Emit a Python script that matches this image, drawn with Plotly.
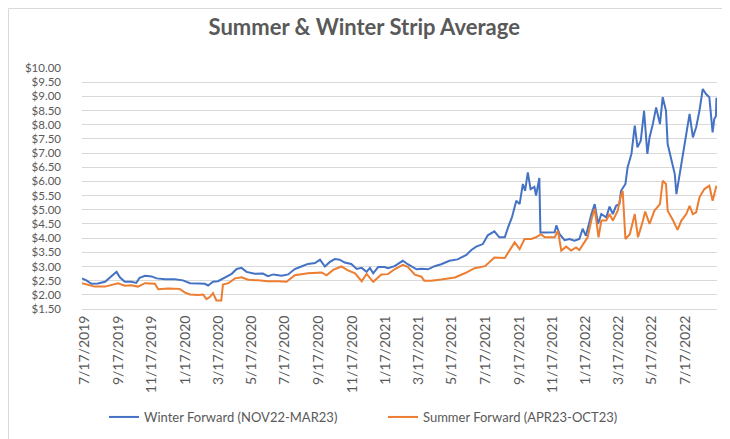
import plotly.graph_objects as go

# ---- data ----
winter_dates = [
    "2019-07-13", "2019-07-21", "2019-07-30", "2019-08-11", "2019-08-24", "2019-09-02",
    "2019-09-11", "2019-09-14", "2019-09-20", "2019-09-29", "2019-10-11", "2019-10-20",
    "2019-10-26", "2019-11-05", "2019-11-17", "2019-11-26", "2019-12-11", "2019-12-29",
    "2020-01-13", "2020-01-26", "2020-02-10", "2020-02-22", "2020-02-28", "2020-03-08",
    "2020-03-17", "2020-03-29", "2020-04-11", "2020-04-20", "2020-04-29", "2020-05-08",
    "2020-05-23", "2020-06-07", "2020-06-16", "2020-06-26", "2020-07-11", "2020-07-23",
    "2020-08-04", "2020-08-16", "2020-08-28", "2020-09-10", "2020-09-19", "2020-09-28",
    "2020-10-07", "2020-10-16", "2020-10-25", "2020-11-03", "2020-11-15", "2020-11-25",
    "2020-12-04", "2020-12-13", "2020-12-19", "2020-12-25", "2021-01-03", "2021-01-15",
    "2021-01-21", "2021-02-02", "2021-02-17", "2021-02-26", "2021-03-14", "2021-03-23",
    "2021-04-04", "2021-04-16", "2021-04-28", "2021-05-13", "2021-05-28", "2021-06-13",
    "2021-06-22", "2021-07-01", "2021-07-13", "2021-07-22", "2021-08-03", "2021-08-12",
    "2021-08-22", "2021-08-28", "2021-09-04", "2021-09-12", "2021-09-18", "2021-09-24",
    "2021-09-28", "2021-10-03", "2021-10-08", "2021-10-15", "2021-10-18", "2021-10-24",
    "2021-10-26", "2021-11-03", "2021-11-15", "2021-11-21", "2021-11-24", "2021-11-30",
    "2021-12-09", "2021-12-18", "2021-12-27", "2022-01-05", "2022-01-11", "2022-01-17",
    "2022-01-27", "2022-02-02", "2022-02-08", "2022-02-14", "2022-02-23", "2022-03-01",
    "2022-03-07", "2022-03-13", "2022-03-19", "2022-03-22", "2022-03-30", "2022-04-03",
    "2022-04-10", "2022-04-16", "2022-04-21", "2022-04-27", "2022-05-03", "2022-05-09",
    "2022-05-13", "2022-05-19", "2022-05-25", "2022-06-01", "2022-06-06", "2022-06-12",
    "2022-06-15", "2022-06-21", "2022-06-28", "2022-07-01", "2022-07-07", "2022-07-13",
    "2022-07-19", "2022-07-25", "2022-07-31", "2022-08-06", "2022-08-12", "2022-08-18",
    "2022-08-24", "2022-08-30", "2022-09-05", "2022-09-08", "2022-09-11", "2022-09-12",
]
winter_values = [
    2.58, 2.51, 2.39, 2.40, 2.46, 2.62,
    2.79, 2.81, 2.62, 2.46, 2.46, 2.42,
    2.60, 2.67, 2.65, 2.58, 2.55, 2.55,
    2.51, 2.41, 2.40, 2.39, 2.33, 2.46,
    2.48, 2.60, 2.74, 2.91, 2.95, 2.81,
    2.74, 2.75, 2.66, 2.72, 2.67, 2.72,
    2.91, 3.00, 3.09, 3.12, 3.24, 3.00,
    3.16, 3.26, 3.24, 3.14, 3.09, 2.91,
    2.95, 2.81, 2.95, 2.76, 2.98, 2.98,
    2.94, 3.01, 3.20, 3.08, 2.90, 2.92,
    2.90, 3.01, 3.08, 3.20, 3.25, 3.41,
    3.58, 3.70, 3.79, 4.10, 4.24, 4.03,
    4.03, 4.38, 4.73, 5.32, 5.20, 5.91,
    5.67, 6.32, 5.73, 5.81, 5.50, 6.12,
    4.20, 4.20, 4.21, 4.21, 4.45, 4.14,
    3.93, 3.97, 3.91, 3.97, 4.33, 4.08,
    4.85, 5.20, 4.50, 4.85, 4.73, 5.11,
    4.85, 5.14, 5.20, 5.67, 5.91, 6.50,
    6.97, 7.97, 7.20, 7.44, 8.49, 6.97,
    7.55, 8.02, 8.61, 8.02, 8.97, 8.49,
    7.32, 6.85, 6.26, 5.55, 6.26, 6.85,
    7.55, 8.38, 7.55, 7.91, 8.49, 9.26,
    9.08, 8.97, 7.73, 8.20, 8.30, 8.95,
]

summer_dates = [
    "2019-07-13", "2019-07-24", "2019-08-05", "2019-08-24", "2019-09-05", "2019-09-17",
    "2019-09-29", "2019-10-11", "2019-10-23", "2019-11-05", "2019-11-23", "2019-11-29",
    "2019-12-17", "2020-01-07", "2020-01-17", "2020-01-26", "2020-02-10", "2020-02-19",
    "2020-02-25", "2020-03-02", "2020-03-08", "2020-03-14", "2020-03-23", "2020-03-26",
    "2020-04-05", "2020-04-17", "2020-04-29", "2020-05-11", "2020-05-29", "2020-06-16",
    "2020-07-05", "2020-07-20", "2020-08-04", "2020-08-28", "2020-09-22", "2020-10-01",
    "2020-10-13", "2020-10-28", "2020-11-09", "2020-11-22", "2020-12-04", "2020-12-13",
    "2020-12-25", "2021-01-09", "2021-01-21", "2021-02-02", "2021-02-17", "2021-02-26",
    "2021-03-11", "2021-03-23", "2021-03-28", "2021-04-10", "2021-04-28", "2021-05-23",
    "2021-06-10", "2021-06-28", "2021-07-17", "2021-08-03", "2021-08-22", "2021-08-31",
    "2021-09-09", "2021-09-18", "2021-09-27", "2021-10-09", "2021-10-18", "2021-10-27",
    "2021-11-03", "2021-11-21", "2021-11-27", "2021-12-03", "2021-12-12", "2021-12-21",
    "2021-12-30", "2022-01-05", "2022-01-14", "2022-01-20", "2022-01-28", "2022-02-02",
    "2022-02-09", "2022-02-14", "2022-02-23", "2022-03-01", "2022-03-07", "2022-03-16",
    "2022-03-21", "2022-03-25", "2022-03-30", "2022-04-07", "2022-04-16", "2022-04-22",
    "2022-05-01", "2022-05-05", "2022-05-13", "2022-05-22", "2022-06-01", "2022-06-06",
    "2022-06-12", "2022-06-15", "2022-06-25", "2022-07-03", "2022-07-10", "2022-07-19",
    "2022-07-25", "2022-07-31", "2022-08-06", "2022-08-12", "2022-08-21", "2022-08-30",
    "2022-09-05", "2022-09-11", "2022-09-12",
]
summer_values = [
    2.41, 2.36, 2.29, 2.29, 2.36, 2.41,
    2.32, 2.34, 2.29, 2.41, 2.39, 2.20,
    2.22, 2.21, 2.08, 2.01, 1.99, 2.01,
    1.85, 1.92, 2.06, 1.80, 1.80, 2.36,
    2.41, 2.58, 2.62, 2.53, 2.51, 2.48,
    2.48, 2.46, 2.69, 2.76, 2.79, 2.69,
    2.88, 3.00, 2.86, 2.76, 2.48, 2.74,
    2.46, 2.72, 2.73, 2.90, 3.06, 2.99,
    2.71, 2.64, 2.50, 2.50, 2.54, 2.61,
    2.76, 2.94, 3.01, 3.32, 3.30, 3.56,
    3.85, 3.61, 3.97, 3.97, 4.03, 4.14,
    4.03, 4.03, 4.26, 3.56, 3.70, 3.56,
    3.67, 3.58, 3.85, 4.03, 4.73, 5.03,
    4.03, 4.62, 4.62, 4.85, 4.62, 4.97,
    5.44, 5.67, 3.97, 4.14, 4.85, 4.03,
    4.62, 4.94, 4.50, 4.97, 5.20, 6.02,
    5.91, 4.97, 4.62, 4.29, 4.62, 4.85,
    5.14, 4.85, 4.91, 5.44, 5.73, 5.85,
    5.32, 5.79, 5.85,
]

tick_dates = [
    "2019-07-17", "2019-09-17", "2019-11-17", "2020-01-17", "2020-03-17", "2020-05-17",
    "2020-07-17", "2020-09-17", "2020-11-17", "2021-01-17", "2021-03-17", "2021-05-17",
    "2021-07-17", "2021-09-17", "2021-11-17", "2022-01-17", "2022-03-17", "2022-05-17",
    "2022-07-17",
]
tick_labels = [
    "7/17/2019", "9/17/2019", "11/17/2019", "1/17/2020", "3/17/2020", "5/17/2020",
    "7/17/2020", "9/17/2020", "11/17/2020", "1/17/2021", "3/17/2021", "5/17/2021",
    "7/17/2021", "9/17/2021", "11/17/2021", "1/17/2022", "3/17/2022", "5/17/2022",
    "7/17/2022",
]

title_text = "Summer & Winter Strip Average"
winter_name = "Winter Forward (NOV22-MAR23)"
summer_name = "Summer Forward (APR23-OCT23)"

# ---- figure ----
W, H = 730, 439
ML, MR, MT, MB = 74, 21, 60, 138
PW, PH = W - ML - MR, H - MT - MB
TXT = "#595959"
FONT = "Lato"

fig = go.Figure()
fig.add_trace(go.Scatter(x=winter_dates, y=winter_values, mode="lines", name=winter_name,
                         line=dict(color="#4472C4", width=2)))
fig.add_trace(go.Scatter(x=summer_dates, y=summer_values, mode="lines", name=summer_name,
                         line=dict(color="#ED7D31", width=2)))

fig.update_layout(
    width=W, height=H,
    margin=dict(l=ML, r=MR, t=MT, b=MB),
    paper_bgcolor="white", plot_bgcolor="white",
    font=dict(family=FONT, color=TXT),
    title=dict(text=title_text, x=0.488, xanchor="center", y=1 - 19 / H, yanchor="middle",
               font=dict(family=FONT, size=22, color=TXT, weight="bold")),
    showlegend=True,
    legend=dict(orientation="h", x=(375 - ML) / PW, xanchor="center",
                y=-(409 - (MT + PH)) / PH, yanchor="middle",
                font=dict(size=13, color=TXT), itemwidth=30,
                entrywidth=234, entrywidthmode="pixels",
                bgcolor="rgba(0,0,0,0)"),
    xaxis=dict(type="date", range=["2019-07-13", "2022-09-13"],
               tickmode="array", tickvals=tick_dates, ticktext=tick_labels,
               tickangle=-90, tickfont=dict(size=14, color=TXT),
               showgrid=False, zeroline=False, showline=True, linecolor="#d9d9d9",
               linewidth=1, ticks="", ticklabelstandoff=0),
    yaxis=dict(range=[1.5, 10.0], dtick=0.5, tick0=1.5, tickformat="$.2f",
               tickfont=dict(size=11.5, color=TXT), showgrid=True, gridcolor="#d9d9d9",
               gridwidth=1, zeroline=False, showline=False, ticks="",
               ticklabelstandoff=20),
    shapes=[dict(type="rect", xref="paper", yref="paper",
                 x0=-(ML - 0.5) / PW, x1=1 + (MR - 1.5) / PW,
                 y0=-(MB - 1.5) / PH, y1=1 + (MT - 0.5) / PH,
                 line=dict(color="#d9d9d9", width=1), fillcolor="rgba(0,0,0,0)",
                 layer="below")],
)

fig.write_html("out.html")
